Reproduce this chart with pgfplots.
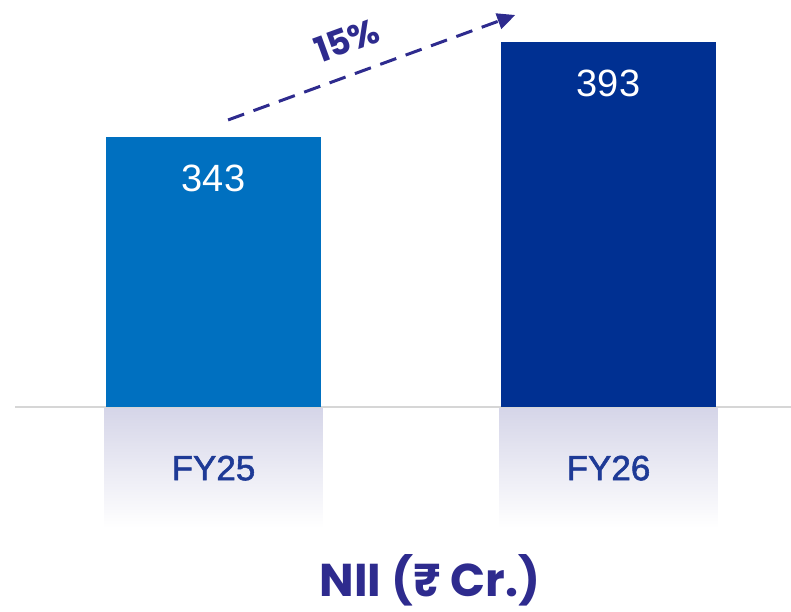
\documentclass[border=0pt]{standalone}
\usepackage{pgfplots}
\pgfplotsset{compat=1.18}
\usepackage{fontspec}
\setmainfont{Liberation Sans}
\newfontfamily\poppins{Poppins}
\newfontfamily\labfont{Liberation Sans}[FakeBold=1.6]
\usetikzlibrary{arrows.meta}

\definecolor{barA}{HTML}{0070C0}
\definecolor{barB}{HTML}{003092}
\definecolor{ink}{HTML}{2E2B8E}
\definecolor{lab}{HTML}{1E3A96}
\definecolor{shadow}{HTML}{D5D5E8}
\definecolor{rule}{HTML}{D6D6D6}

\pgfdeclarelayer{bg}
\pgfsetlayers{bg,main}

\begin{document}
\begin{tikzpicture}
\useasboundingbox (0pt,0pt) rectangle (791pt,611pt);
\begin{axis}[
    at={(15pt,204pt)}, anchor=south west,
    scale only axis, width=776pt, height=407pt,
    xmin=-0.5025, xmax=1.462, ymin=201, ymax=415.1,
    ybar, bar width=0.542, bar shift=0pt,
    axis x line=bottom, axis y line=none,
    x axis line style={-, draw=rule, line width=1.5pt},
    xtick={0,1}, xticklabels={FY25,FY26},
    xtick style={draw=none},
    xticklabel style={anchor=center, yshift=-59pt, text=lab,
        font=\labfont\fontsize{35}{40}\selectfont},
    nodes near coords,
    every node near coord/.append style={anchor=center, yshift=-41pt,
        text=white, font=\fontsize{38}{44}\selectfont},
    /pgf/number format/assume math mode=true,
]
\addplot[fill=barA, draw=none] coordinates {(0,343)};
\addplot[fill=barB, draw=none] coordinates {(1,393)};

% reflection under the bars
\coordinate (s1a) at (axis cs:-0.276,201);
\coordinate (s1b) at (axis cs:0.276,137.4);
\coordinate (s2a) at (axis cs:0.724,201);
\coordinate (s2b) at (axis cs:1.276,137.4);

% growth arrow
\draw[ink, line width=3pt, dash pattern=on 17pt off 10pt,
      -{Triangle[length=18pt,width=16pt]}]
    (axis cs:0.037,352) -- (axis cs:0.764,407.2);
\node[rotate=20, text=ink, inner sep=0pt,
      font=\poppins\bfseries\fontsize{35}{40}\selectfont]
    at (axis cs:0.338,394) {15\%};
\end{axis}

\begin{pgfonlayer}{bg}
\shade[top color=shadow, bottom color=white] (s1a) rectangle (s1b);
\shade[top color=shadow, bottom color=white] (s2a) rectangle (s2b);
\end{pgfonlayer}

\node[anchor=base, text=ink, inner sep=0pt,
      font=\poppins\bfseries\fontsize{46}{52}\selectfont]
    at (430pt,15pt) {NII (₹ Cr.)};
\end{tikzpicture}
\end{document}
